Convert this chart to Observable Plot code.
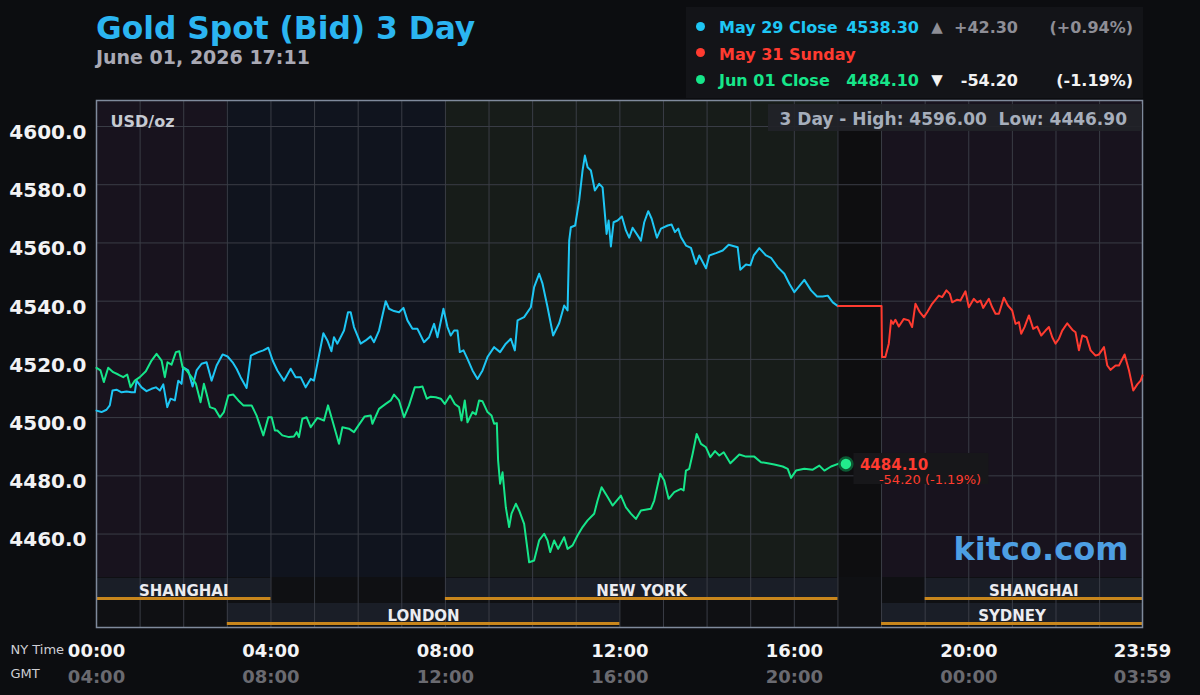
<!DOCTYPE html>
<html><head><meta charset="utf-8">
<script src="https://cdn.jsdelivr.net/npm/d3@7"></script>
<script src="https://cdn.jsdelivr.net/npm/@observablehq/plot@0.6"></script>
<style>
html,body{margin:0;padding:0;background:#0c0d10;}
#wrap{position:relative;width:1200px;height:695px;overflow:hidden;font-family:"DejaVu Sans",sans-serif;}
#chart{position:absolute;left:0;top:0;}
.abs{position:absolute;line-height:1;white-space:pre;font-weight:bold;}
</style></head><body><div id="wrap"><div id="chart"></div></div>
<script>
// ---------- text ----------
const titleText = "Gold Spot (Bid) 3 Day";
const subtitleText = "June 01, 2026 17:11";
const unitLabel = "USD/oz";
const brand = "kitco.com";
const seriesNames = ["May 29 Close", "May 31 Sunday", "Jun 01 Close"];
const closeValues = [4538.30, null, 4484.10];
const changeValues = [42.30, null, -54.20];
const changePcts = [0.94, null, -1.19];
const threeDayHigh = 4596.00;
const threeDayLow = 4446.90;

// ---------- axes ----------
const yTicks = [4460, 4480, 4500, 4520, 4540, 4560, 4580, 4600];
const nyTicks = ["00:00", "04:00", "08:00", "12:00", "16:00", "20:00", "23:59"];
const gmtTicks = ["04:00", "08:00", "12:00", "16:00", "20:00", "00:00", "03:59"];

// ---------- sessions ----------
const shadeStarts = ["00:00", "03:00", "08:00", "17:00", "18:00"];
const shadeEnds   = ["03:00", "08:00", "17:00", "18:00", "23:59"];
const shadeKinds  = ["asia", "london", "newyork", "closed", "asia"];
const row1Names = ["SHANGHAI", "NEW YORK", "SHANGHAI"];
const row1Starts = ["00:00", "08:00", "19:00"];
const row1Ends = ["04:00", "17:00", "23:59"];
const row2Names = ["LONDON", "SYDNEY"];
const row2Starts = ["03:00", "18:00"];
const row2Ends = ["12:00", "23:59"];

// ---------- series (hours NY time, price) ----------
const may29Hours = [0,0.115,0.229,0.305,0.367,0.459,0.574,0.688,0.803,0.879,0.918,1.033,1.147,1.262,1.361,1.453,1.531,1.622,1.698,1.797,1.875,1.950,1.989,2.104,2.203,2.295,2.409,2.524,2.639,2.754,2.891,3.006,3.121,3.212,3.304,3.442,3.540,3.710,3.825,3.940,4.039,4.147,4.298,4.452,4.566,4.681,4.796,4.910,4.986,5.064,5.202,5.294,5.386,5.445,5.523,5.675,5.767,5.828,5.904,6.058,6.172,6.287,6.363,6.478,6.631,6.707,6.822,6.937,7.038,7.129,7.244,7.359,7.510,7.625,7.740,7.818,7.955,8.047,8.123,8.199,8.277,8.330,8.415,8.506,8.621,8.736,8.851,8.965,9.117,9.254,9.385,9.500,9.592,9.654,9.805,9.959,10.034,10.149,10.227,10.342,10.470,10.608,10.723,10.801,10.838,10.877,10.975,11.067,11.145,11.198,11.260,11.336,11.427,11.526,11.604,11.696,11.742,11.794,11.856,11.948,12.047,12.139,12.214,12.292,12.407,12.483,12.559,12.651,12.729,12.850,12.942,13.096,13.187,13.263,13.339,13.401,13.516,13.630,13.745,13.821,13.975,14.050,14.204,14.358,14.495,14.702,14.761,14.892,14.991,15.069,15.197,15.351,15.466,15.619,15.771,15.886,16.001,16.062,16.230,16.384,16.521,16.652,16.767,16.882,17.0];
const may29Prices = [4502.4,4501.9,4502.7,4504.2,4509.3,4509.6,4508.7,4509.0,4508.7,4508.7,4512.7,4510.4,4509.1,4509.9,4510.4,4509.3,4511.4,4503.6,4506.5,4505.9,4512.7,4511.6,4517.3,4516.2,4510.7,4516.2,4518.5,4519.0,4512.7,4517.9,4521.7,4521.0,4519.0,4516.8,4513.9,4510.2,4521.3,4522.5,4523.1,4524.0,4519.6,4516.2,4512.7,4516.8,4513.9,4513.9,4510.4,4513.3,4512.7,4518.5,4529.0,4526.5,4522.8,4527.6,4525.4,4529.9,4536.2,4536.2,4531.1,4525.4,4526.5,4527.9,4525.9,4529.9,4540.0,4537.4,4536.6,4536.2,4537.7,4533.4,4530.5,4530.5,4525.9,4527.6,4532.2,4527.6,4537.4,4531.1,4528.2,4529.9,4529.9,4522.5,4523.1,4520.2,4516.2,4513.3,4516.2,4520.8,4524.2,4522.5,4525.4,4527.1,4523.1,4533.4,4534.5,4537.9,4544.8,4549.4,4546.0,4537.9,4528.2,4532.4,4538.5,4536.8,4560.8,4565.4,4566.0,4574.6,4584.9,4590.0,4586.0,4584.9,4578.0,4580.3,4579.1,4563.1,4567.7,4558.8,4567.1,4567.7,4569.1,4564.3,4561.8,4565.2,4562.6,4560.8,4567.1,4570.9,4568.3,4561.8,4564.9,4566.0,4566.3,4563.7,4564.9,4562.0,4559.1,4558.3,4552.8,4555.7,4551.3,4555.7,4556.5,4557.4,4559.4,4558.5,4550.8,4552.6,4552.3,4555.7,4558.2,4555.7,4554.9,4551.7,4549.4,4546.0,4543.1,4544.2,4547.3,4543.7,4541.6,4541.6,4541.9,4539.6,4538.3];

const may31Hours = [17.0,18.0,18.01,18.088,18.166,18.219,18.265,18.318,18.396,18.511,18.625,18.701,18.777,18.878,18.970,19.046,19.160,19.314,19.390,19.488,19.566,19.619,19.734,19.809,19.924,20.002,20.117,20.193,20.268,20.330,20.461,20.537,20.613,20.691,20.805,20.897,20.996,21.072,21.150,21.202,21.278,21.379,21.478,21.569,21.661,21.760,21.838,21.914,21.989,22.068,22.143,22.258,22.373,22.448,22.526,22.602,22.701,22.793,22.907,22.985,23.100,23.176,23.251,23.366,23.444,23.573,23.674,23.772,23.864,23.940,23.983];
const may31Prices = [4538.3,4538.3,4520.8,4520.8,4525.4,4533.4,4532.2,4533.6,4531.3,4533.9,4533.4,4531.1,4539.1,4536.2,4534.5,4536.2,4539.1,4541.9,4541.4,4543.7,4542.5,4539.6,4540.5,4540.2,4543.4,4537.9,4540.8,4539.6,4540.2,4537.7,4540.8,4537.9,4535.7,4535.7,4541.2,4538.5,4536.8,4532.2,4532.8,4528.8,4531.1,4535.1,4530.5,4531.3,4528.2,4529.9,4531.1,4527.6,4525.4,4527.1,4529.9,4532.4,4530.2,4529.3,4523.1,4528.2,4527.6,4523.1,4521.3,4521.7,4524.2,4517.9,4516.4,4517.9,4517.9,4521.7,4516.2,4509.3,4511.4,4512.7,4514.5];

const jun01Hours = [0,0.092,0.168,0.268,0.383,0.498,0.613,0.704,0.780,0.879,0.994,1.131,1.262,1.377,1.492,1.567,1.629,1.721,1.820,1.898,1.973,2.065,2.180,2.279,2.386,2.462,2.524,2.600,2.715,2.829,2.921,3.022,3.137,3.252,3.366,3.557,3.671,3.825,3.940,4.016,4.091,4.147,4.261,4.413,4.527,4.589,4.642,4.720,4.819,4.911,5.064,5.216,5.308,5.409,5.560,5.638,5.789,5.904,6.019,6.150,6.287,6.326,6.478,6.631,6.746,6.822,6.937,7.051,7.166,7.297,7.396,7.474,7.572,7.664,7.779,7.894,7.985,8.107,8.215,8.313,8.369,8.444,8.506,8.621,8.697,8.772,8.851,8.965,9.057,9.117,9.179,9.208,9.254,9.310,9.385,9.461,9.516,9.615,9.690,9.805,9.920,10.034,10.149,10.264,10.342,10.402,10.493,10.585,10.723,10.801,10.916,11.030,11.145,11.260,11.411,11.489,11.581,11.719,11.833,12.024,12.139,12.253,12.368,12.483,12.712,12.788,12.925,13.017,13.118,13.247,13.401,13.462,13.515,13.591,13.669,13.761,13.860,13.975,14.073,14.181,14.280,14.381,14.533,14.739,14.892,15.083,15.236,15.390,15.541,15.734,15.849,15.925,16.039,16.230,16.423,16.574,16.689,16.843,17.033,17.183];
const jun01Prices = [4517.1,4516.2,4512.2,4517.1,4515.6,4514.8,4513.9,4514.8,4510.4,4512.7,4513.9,4515.9,4519.6,4521.9,4519.6,4513.9,4519.0,4518.2,4522.5,4522.8,4517.3,4516.2,4513.9,4511.6,4505.3,4511.6,4508.2,4503.6,4503.0,4500.1,4501.9,4507.6,4507.9,4505.9,4504.2,4504.2,4500.7,4493.9,4500.1,4500.1,4495.6,4495.6,4493.9,4493.3,4493.5,4495.0,4493.3,4499.6,4500.1,4496.7,4499.9,4499.0,4504.2,4499.0,4491.0,4496.7,4496.2,4495.0,4497.6,4500.4,4500.7,4497.9,4503.0,4504.7,4505.9,4507.9,4505.9,4500.1,4504.2,4510.4,4510.4,4510.7,4506.5,4507.2,4507.0,4506.5,4504.7,4507.6,4504.7,4503.6,4499.0,4505.9,4498.4,4501.9,4501.1,4505.9,4505.6,4501.9,4500.7,4497.9,4498.1,4485.3,4477.3,4481.2,4469.2,4462.4,4467.0,4470.4,4468.1,4463.5,4450.3,4450.9,4457.8,4460.1,4457.8,4453.8,4457.8,4454.9,4458.9,4454.9,4456.1,4459.5,4462.4,4464.7,4467.0,4471.5,4476.1,4472.7,4469.8,4473.2,4469.2,4467.0,4465.2,4468.1,4468.7,4471.5,4480.7,4478.4,4472.1,4474.4,4475.5,4475.0,4481.8,4482.4,4487.6,4494.4,4491.0,4489.8,4486.4,4488.5,4487.0,4488.1,4484.3,4487.3,4486.6,4486.6,4484.7,4484.3,4483.9,4483.2,4482.4,4479.3,4481.8,4482.4,4482.1,4483.5,4481.8,4483.2,4484.3,4484.1];

// ---------- styles ----------
const colBlue = "#1ec6f4", colRed = "#ff3b30", colGreen = "#16e68a";
const shadeColor = {asia: "#18131e", london: "#10141e", newyork: "#171c19", closed: "#0e0e10"};
const gridColor = "#3a3d46";
const bandFill = "#1a1e27", bandLine = "#c8861c";
const font = "DejaVu Sans";

const toHour = s => { const [h, m] = s.split(":").map(Number); return h + m / 60; };
const xEnd = toHour("23:59");
const pts = (H, P) => H.map((h, i) => ({h, p: P[i]}));
const may29 = pts(may29Hours, may29Prices);
const may31 = pts(may31Hours, may31Prices);
const jun01 = pts(jun01Hours, jun01Prices);
const last = jun01[jun01.length - 1];
const shades = shadeStarts.map((s, i) => ({s: toHour(s), e: toHour(shadeEnds[i]), kind: shadeKinds[i]}));
const row1 = row1Names.map((n, i) => ({n, s: toHour(row1Starts[i]), e: toHour(row1Ends[i])}));
const row2 = row2Names.map((n, i) => ({n, s: toHour(row2Starts[i]), e: toHour(row2Ends[i])}));
const xLabels = nyTicks.map((t, i) => ({h: toHour(t), ny: t, gmt: gmtTicks[i]}));
const loc = d3.formatLocale({decimal: ".", thousands: ",", grouping: [3], currency: ["$", ""], minus: "-"});
const fmt1 = loc.format(".1f"), fmt2 = loc.format(".2f");
const sgn = v => (v > 0 ? "+" : "") + fmt2(v);

const chart = Plot.plot({
  width: 1200, height: 695,
  marginTop: 100, marginRight: 58, marginBottom: 68, marginLeft: 96,
  style: {background: "transparent", fontFamily: font, color: "#fff", overflow: "visible"},
  x: {domain: [0, xEnd], axis: null},
  y: {domain: [4427.9, 4608.93], axis: null},
  marks: [
    Plot.rect(shades, {x1: "s", x2: "e", fill: d => shadeColor[d.kind], insetBottom: 50}),
    Plot.rect([0], {x1: () => 0, x2: () => xEnd, fill: "#0f1013", insetTop: 477}),
    Plot.rect(row1, {x1: "s", x2: "e", fill: bandFill, insetTop: 478, insetBottom: 27}),
    Plot.rect(row2, {x1: "s", x2: "e", fill: bandFill, insetTop: 503, insetBottom: 2}),
    Plot.ruleX(d3.range(1, 24), {stroke: gridColor, strokeWidth: 1}),
    Plot.ruleY(yTicks, {stroke: gridColor, strokeWidth: 1}),
    Plot.rect(row1, {x1: "s", x2: "e", fill: bandLine, insetTop: 497, insetBottom: 27}),
    Plot.rect(row2, {x1: "s", x2: "e", fill: bandLine, insetTop: 522, insetBottom: 2}),
    Plot.text(row1, {x: d => (d.s + d.e) / 2, text: "n", frameAnchor: "bottom", dy: -32, fill: "#ececf0", fontSize: 15, fontWeight: "bold"}),
    Plot.text(row2, {x: d => (d.s + d.e) / 2, text: "n", frameAnchor: "bottom", dy: -7, fill: "#ececf0", fontSize: 15, fontWeight: "bold"}),
    Plot.frame({stroke: "#7f8a9c", strokeWidth: 1.5}),
    Plot.line(may29, {x: "h", y: "p", stroke: colBlue, strokeWidth: 2}),
    Plot.line(may31, {x: "h", y: "p", stroke: colRed, strokeWidth: 2}),
    Plot.line(jun01, {x: "h", y: "p", stroke: colGreen, strokeWidth: 2}),
    Plot.text(yTicks, {y: d => d, text: d => fmt1(d), frameAnchor: "left", dx: -10, dy: 6, textAnchor: "end", fill: "#f2f2f4", fontSize: 20, fontWeight: "bold"}),
    Plot.text(xLabels, {x: "h", text: "ny", frameAnchor: "bottom", dy: 29, fill: "#f4f4f6", fontSize: 18, fontWeight: "bold"}),
    Plot.text(xLabels, {x: "h", text: "gmt", frameAnchor: "bottom", dy: 55, fill: "#6a6a70", fontSize: 18, fontWeight: "bold"}),
    Plot.text(["NY Time"], {text: d => d, frameAnchor: "bottom-left", dx: -86, dy: 26, textAnchor: "start", fill: "#cfcfd4", fontSize: 13, fontWeight: "normal"}),
    Plot.text(["GMT"], {text: d => d, frameAnchor: "bottom-left", dx: -86, dy: 50, textAnchor: "start", fill: "#cfcfd4", fontSize: 13, fontWeight: "normal"}),
    Plot.text([unitLabel], {text: d => d, frameAnchor: "top-left", dx: 14, dy: 15, textAnchor: "start", fill: "#c6cad2", fontSize: 16, fontWeight: "bold"}),
    Plot.text([brand], {text: d => d, frameAnchor: "bottom-right", dx: -14, dy: -68, textAnchor: "end", fill: "#4d9fe3", fontSize: 32, fontWeight: "bold"}),
    Plot.rect([last], {x1: "h", x2: "h", y1: "p", y2: "p", fill: "#17171a", insetLeft: 8, insetRight: -143, insetTop: -10.4, insetBottom: -20.6}),
    Plot.dot([last], {x: "h", y: "p", r: 6.5, fill: "#22ec8c", stroke: "#0c5a34", strokeWidth: 2.5}),
    Plot.text([last], {x: "h", y: "p", text: d => fmt2(d.p), dx: 14, dy: 1, textAnchor: "start", fill: colRed, fontSize: 15, fontWeight: "bold"}),
    Plot.text([last], {x: "h", y: "p", text: () => `${fmt2(changeValues[2])} (${fmt2(changePcts[2])}%)`, dx: 33, dy: 16, textAnchor: "start", fill: colRed, fontSize: 13, fontWeight: "normal"})
  ]
});
document.getElementById("chart").appendChild(chart);

// ---------- header overlay ----------
const wrap = document.getElementById("wrap");
function add(text, style) {
  const d = document.createElement("div");
  d.className = "abs";
  d.textContent = text;
  d.setAttribute("style", style);
  wrap.appendChild(d);
  return d;
}
add(titleText, `left:96px;top:12.5px;font-size:31.3px;color:#2bb5f1;`);
add(subtitleText, `left:96px;top:48px;font-size:19px;color:#a9a9b4;`);
const box = document.createElement("div");
box.setAttribute("style", "position:absolute;left:686px;top:7px;width:457px;height:91px;background:#131418;");
wrap.appendChild(box);
const rowColors = [colBlue, colRed, colGreen];
const rowTops = [20, 46.6, 73.3];
const dotCenters = [26, 52.5, 79.5];
const tailColors = ["#8e8e96", null, "#f2f2f2"];
seriesNames.forEach((name, i) => {
  const dot = document.createElement("div");
  dot.setAttribute("style", `position:absolute;left:695.5px;top:${dotCenters[i] - 4.5}px;width:9px;height:9px;border-radius:50%;background:${rowColors[i]};`);
  wrap.appendChild(dot);
  add(name, `left:719px;top:${rowTops[i]}px;font-size:16px;color:${rowColors[i]};`);
  if (closeValues[i] != null) {
    add(fmt2(closeValues[i]), `right:281px;top:${rowTops[i]}px;font-size:16px;color:${rowColors[i]};text-align:right;`);
    add(changeValues[i] >= 0 ? "▲" : "▼", `left:930px;width:14px;text-align:center;top:${rowTops[i]}px;font-size:15px;color:${tailColors[i]};`);
    add(sgn(changeValues[i]), `right:182px;top:${rowTops[i]}px;font-size:16px;color:${tailColors[i]};text-align:right;`);
    add(`(${sgn(changePcts[i])}%)`, `right:67px;top:${rowTops[i]}px;font-size:16px;color:${tailColors[i]};text-align:right;`);
  }
});
const stats = document.createElement("div");
stats.setAttribute("style", "position:absolute;left:768px;top:104px;width:374px;height:27px;background:rgba(34,35,40,0.92);");
wrap.appendChild(stats);
add(`3 Day - High: ${fmt2(threeDayHigh)}  Low: ${fmt2(threeDayLow)}`, `right:73px;top:110.8px;font-size:17px;color:#a6aebb;text-align:right;`);
</script>
</body></html>
